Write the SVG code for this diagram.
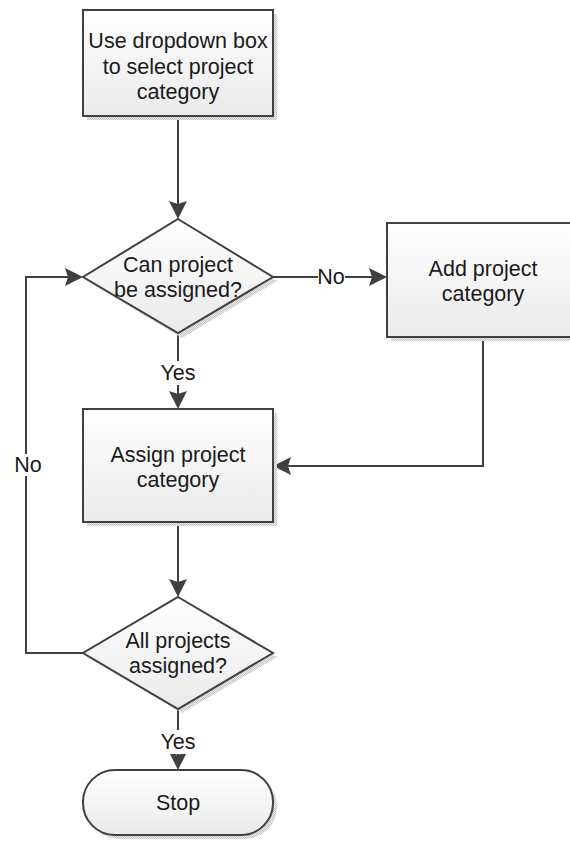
<svg xmlns="http://www.w3.org/2000/svg" width="570" height="846" viewBox="0 0 570 846">
  <style>
    .shape { fill: url(#shapeFill); stroke: #404040; stroke-width: 2; }
    .shadow { fill: url(#shadowDots); stroke: none; }
    .label { font-family: "Liberation Sans", Arial, sans-serif; font-size: 21.5px; fill: #1a1a1a; text-anchor: middle; }
    .edge { fill: none; stroke: #404040; stroke-width: 2; }
    .tag { fill: #ffffff; }
  </style>
  <defs>
    <linearGradient id="shapeFill" x1="0" y1="0" x2="0" y2="1">
      <stop offset="0" stop-color="#ffffff"/>
      <stop offset="1" stop-color="#eaeaea"/>
    </linearGradient>
    <pattern id="shadowDots" width="2" height="2" patternUnits="userSpaceOnUse">
      <rect width="2" height="2" fill="#ececec"/>
      <rect width="1" height="1" fill="#c4c4c4"/>
      <rect x="1" y="1" width="1" height="1" fill="#c4c4c4"/>
    </pattern>
    <marker id="arrow" viewBox="0 0 18 18" refX="15" refY="9" markerWidth="18" markerHeight="18" markerUnits="userSpaceOnUse" orient="auto">
      <path d="M0,0 L18,9 L0,18 L3,9 Z" fill="#404040"/>
    </marker>
  </defs>

  <!-- connectors -->
  <g id="connectors">
    <path class="edge" d="M178,116 V216" marker-end="url(#arrow)"/>
    <path class="edge" d="M272,277 H384" marker-end="url(#arrow)"/>
    <path class="edge" d="M178,333 V406" marker-end="url(#arrow)"/>
    <path class="edge" d="M483,337 V466 H276" marker-end="url(#arrow)"/>
    <path class="edge" d="M178,522 V594" marker-end="url(#arrow)"/>
    <path class="edge" d="M83,653 H26 V277 H80" marker-end="url(#arrow)"/>
    <path class="edge" d="M178,709 V767" marker-end="url(#arrow)"/>
    <!-- edge labels -->
    <rect class="tag" x="318" y="266" width="27" height="22"/>
    <text class="label" x="331" y="284">No</text>
    <rect class="tag" x="159" y="361" width="38" height="24"/>
    <text class="label" x="178" y="380">Yes</text>
    <rect class="tag" x="14" y="454" width="28" height="22"/>
    <text class="label" x="28" y="472">No</text>
    <rect class="tag" x="159" y="730" width="38" height="24"/>
    <text class="label" x="178" y="749">Yes</text>
  </g>

  <g id="select-category">
    <rect class="shadow" x="87" y="14" width="190" height="106"/>
    <rect class="shape" x="83" y="10" width="190" height="106"/>
    <text class="label" x="178" y="48">Use dropdown box</text>
    <text class="label" x="178" y="74">to select project</text>
    <text class="label" x="178" y="99">category</text>
  </g>

  <g id="can-assign">
    <polygon class="shadow" points="182,223 277,281 182,338 87,281"/>
    <polygon class="shape" points="178,219 273,277 178,333 83,277"/>
    <text class="label" x="178" y="272">Can project</text>
    <text class="label" x="178" y="297">be assigned?</text>
  </g>

  <g id="add-category">
    <rect class="shadow" x="391" y="227" width="193" height="114"/>
    <rect class="shape" x="387" y="223" width="193" height="114"/>
    <text class="label" x="483" y="276">Add project</text>
    <text class="label" x="483" y="301">category</text>
  </g>

  <g id="assign-category">
    <rect class="shadow" x="87" y="413" width="190" height="113"/>
    <rect class="shape" x="83" y="409" width="190" height="113"/>
    <text class="label" x="178" y="462">Assign project</text>
    <text class="label" x="178" y="487">category</text>
  </g>

  <g id="all-assigned">
    <polygon class="shadow" points="182,601 277,657 182,713 87,657"/>
    <polygon class="shape" points="178,597 273,653 178,709 83,653"/>
    <text class="label" x="178" y="648">All projects</text>
    <text class="label" x="178" y="673">assigned?</text>
  </g>

  <g id="stop">
    <rect class="shadow" x="87" y="774" width="190" height="65" rx="32" ry="32"/>
    <rect class="shape" x="83" y="770" width="190" height="65" rx="32" ry="32"/>
    <text class="label" x="178" y="810">Stop</text>
  </g>
</svg>
